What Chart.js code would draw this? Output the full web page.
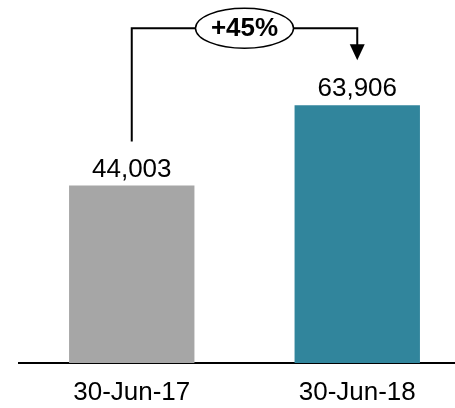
<!DOCTYPE html>
<html>
<head>
<meta charset="utf-8">
<script src="https://cdn.jsdelivr.net/npm/chart.js@4/dist/chart.umd.min.js"></script>
<style>
    html, body { margin: 0; padding: 0; background: #fff; overflow: hidden; }
    #chart { display: block; }
</style>
</head>
<body>
<canvas id="chart" width="470" height="408"></canvas>
<script>
const categories = ["30-Jun-17", "30-Jun-18"];
const values = [44003, 63906];
const barColors = ["#a6a6a6", "#31859c"];
const growthLabel = "+45%";

const FONT = "'Liberation Sans', Arial, sans-serif";

// value labels above each bar
const valueLabels = {
    id: "valueLabels",
    afterDatasetsDraw(chart) {
        const ctx = chart.ctx;
        const bars = chart.getDatasetMeta(0).data;
        ctx.save();
        ctx.font = "26px " + FONT;
        ctx.fillStyle = "#000";
        ctx.textAlign = "center";
        ctx.textBaseline = "alphabetic";
        bars.forEach((bar, i) => {
            ctx.fillText(values[i].toLocaleString("en-US"), bar.x, bar.y - 9);
        });
        ctx.restore();
    }
};

// bracket with growth bubble and arrow
const growthBracket = {
    id: "growthBracket",
    afterDatasetsDraw(chart) {
        const ctx = chart.ctx;
        const [b1, b2] = chart.getDatasetMeta(0).data;
        const topY = b2.y - 77;
        const leftBottom = b1.y - 44;
        const tipY = b2.y - 45;
        const midX = (b1.x + b2.x) / 2;
        const rx = 49, ry = 20;

        ctx.save();
        ctx.strokeStyle = "#000";
        ctx.lineWidth = 2;
        ctx.beginPath();
        ctx.moveTo(b1.x, leftBottom);
        ctx.lineTo(b1.x, topY);
        ctx.lineTo(midX - rx, topY);
        ctx.moveTo(midX + rx, topY);
        ctx.lineTo(b2.x, topY);
        ctx.lineTo(b2.x, tipY - 14);
        ctx.stroke();

        ctx.fillStyle = "#000";
        ctx.beginPath();
        ctx.moveTo(b2.x - 7.5, tipY - 16);
        ctx.lineTo(b2.x + 7.5, tipY - 16);
        ctx.lineTo(b2.x, tipY);
        ctx.closePath();
        ctx.fill();

        ctx.lineWidth = 1.5;
        ctx.fillStyle = "#fff";
        ctx.beginPath();
        ctx.ellipse(midX, topY, rx, ry, 0, 0, Math.PI * 2);
        ctx.fill();
        ctx.stroke();

        ctx.fillStyle = "#000";
        ctx.font = "bold 26px " + FONT;
        ctx.textAlign = "center";
        ctx.textBaseline = "middle";
        ctx.fillText(growthLabel, midX, topY + 1);
        ctx.restore();
    }
};

new Chart(document.getElementById("chart"), {
    type: "bar",
    data: {
        labels: categories,
        datasets: [{
            data: values,
            backgroundColor: barColors,
            borderWidth: 0,
            barPercentage: 1,
            categoryPercentage: 0.556
        }]
    },
    options: {
        responsive: false,
        animation: false,
        layout: { padding: { left: 19, right: 0, top: 0, bottom: 0 } },
        plugins: {
            legend: { display: false },
            tooltip: { enabled: false }
        },
        scales: {
            x: {
                grid: { display: false, drawTicks: false },
                border: { display: true, color: "#000", width: 2 },
                ticks: {
                    color: "#000",
                    font: { family: FONT, size: 26 },
                    padding: 14,
                    maxRotation: 0
                },
                afterFit(scale) { scale.height = 45; }
            },
            y: {
                display: false,
                min: 0,
                max: 90000
            }
        }
    },
    plugins: [valueLabels, growthBracket]
});
</script>
</body>
</html>
